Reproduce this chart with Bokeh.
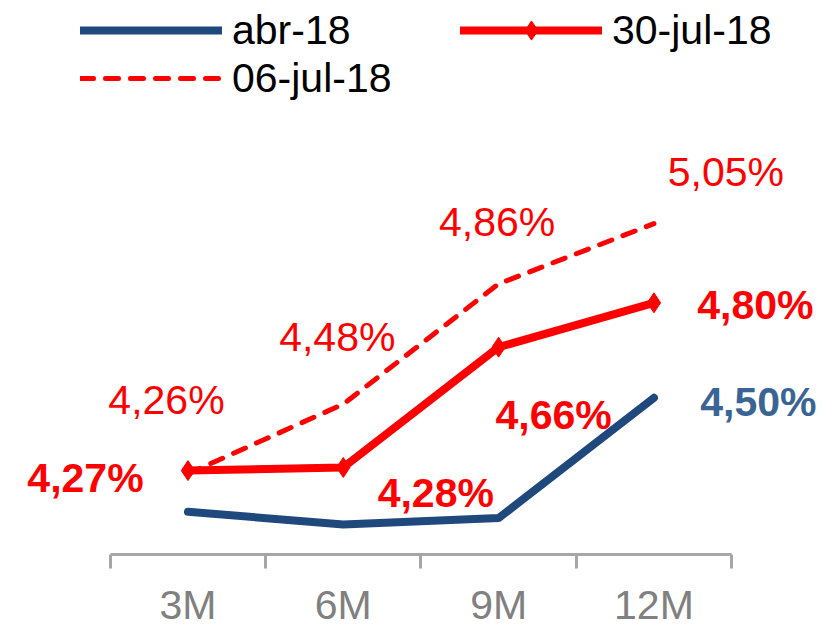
from bokeh.plotting import figure
from bokeh.models import ColumnDataSource, Range1d, LinearAxis, FixedTicker, Legend, LegendItem
from bokeh.core.properties import value
from bokeh.embed import file_html
from bokeh.resources import INLINE

# Tenors and yield curves (%)
categories = ["3M", "6M", "9M", "12M"]
abr_18 = [4.14, 4.10, 4.12, 4.50]
jul30_18 = [4.27, 4.28, 4.66, 4.80]
jul06_18 = [4.26, 4.48, 4.86, 5.05]

# Screen-pixel offsets of the value labels from their points
jul30_dx = [-102.5, 92.5, 55, 101.5]
jul30_dy = [7, 26, 68, 2.5]
jul06_dx = [-21.5, -6, -1.5, 72]
jul06_dy = [-74, -67.5, -61.5, -51.5]
abr_dx = [104.5]
abr_dy = [4]

FONT = "Liberation Sans"
BLUE = "#1f497d"
BLUE_LABEL = "#3a6494"
RED = "#ff0000"
GRAY_AXIS = "#a6a6a6"
GRAY_TEXT = "#808080"
FS = "41px"


def pct(v):
    return f"{v:.2f}".replace(".", ",") + "%"


x = list(range(len(categories)))

p = figure(width=835, height=630,
           x_range=Range1d(-1.207, 4.169), y_range=Range1d(4.005, 5.755),
           x_axis_location=None, y_axis_location=None,
           toolbar_location=None, output_backend="svg",
           min_border=0, min_border_bottom=74)
p.outline_line_color = None
p.background_fill_color = "white"
p.border_fill_color = "white"
p.xgrid.visible = False
p.ygrid.visible = False

r_abr = p.line(x, abr_18, line_color=BLUE, line_width=8,
               line_cap="round", line_join="round")
r_06 = p.line(x, jul06_18, line_color=RED, line_width=5, line_dash="13 12",
              line_cap="round", line_join="round")
r_30 = p.line(x, jul30_18, line_color=RED, line_width=8,
              line_cap="round", line_join="round")
r_30m = p.scatter(x, jul30_18, marker="diamond", size=20,
                  fill_color=RED, line_color=RED)

# Value labels
src_30 = ColumnDataSource(dict(x=x, y=jul30_18, t=[pct(v) for v in jul30_18],
                               dx=jul30_dx, dy=jul30_dy))
p.text(x="x", y="y", text="t", x_offset="dx", y_offset="dy", source=src_30,
       text_color=RED, text_font=value(FONT), text_font_size=FS,
       text_font_style="bold", text_align="center", text_baseline="alphabetic")

src_06 = ColumnDataSource(dict(x=x, y=jul06_18, t=[pct(v) for v in jul06_18],
                               dx=jul06_dx, dy=jul06_dy))
p.text(x="x", y="y", text="t", x_offset="dx", y_offset="dy", source=src_06,
       text_color=RED, text_font=value(FONT), text_font_size=FS,
       text_align="center", text_baseline="alphabetic")

last = len(categories) - 1
src_abr = ColumnDataSource(dict(x=[x[last]], y=[abr_18[last]], t=[pct(abr_18[last])],
                                dx=abr_dx, dy=abr_dy))
p.text(x="x", y="y", text="t", x_offset="dx", y_offset="dy", source=src_abr,
       text_color=BLUE_LABEL, text_font=value(FONT), text_font_size=FS,
       text_font_style="bold", text_align="center", text_baseline="alphabetic")

# Category axis: labels at centres, tick marks at category boundaries
bounds_ticks = [i - 0.5 for i in range(len(categories) + 1)]
ax = LinearAxis(ticker=FixedTicker(ticks=x, minor_ticks=bounds_ticks),
                bounds=(-0.5, len(categories) - 0.5),
                major_label_overrides={i: c for i, c in enumerate(categories)})
ax.axis_line_color = GRAY_AXIS
ax.axis_line_width = 3
ax.major_tick_line_color = None
ax.major_tick_out = 0
ax.major_tick_in = 0
ax.minor_tick_line_color = GRAY_AXIS
ax.minor_tick_line_width = 3
ax.minor_tick_out = 14
ax.minor_tick_in = 0
ax.major_label_text_font = FONT
ax.major_label_text_font_size = FS
ax.major_label_text_color = GRAY_TEXT
ax.major_label_standoff = 13
p.add_layout(ax, "below")


def make_legend(items, loc, orientation):
    return Legend(items=items, location=loc, orientation=orientation,
                  glyph_width=142, glyph_height=48, label_height=48,
                  label_standoff=10, label_width=200, spacing=28,
                  padding=0, margin=0, border_line_color=None,
                  background_fill_alpha=0,
                  label_text_font=FONT, label_text_font_size=FS,
                  label_text_color="black")


leg_top = make_legend([LegendItem(label="abr-18", renderers=[r_abr]),
                       LegendItem(label="30-jul-18", renderers=[r_30, r_30m])],
                      (80, 500), "horizontal")
leg_bottom = make_legend([LegendItem(label="06-jul-18", renderers=[r_06])],
                         (80, 452), "vertical")
p.add_layout(leg_top)
p.add_layout(leg_bottom)

open("out.html", "w").write(file_html(p, INLINE))
